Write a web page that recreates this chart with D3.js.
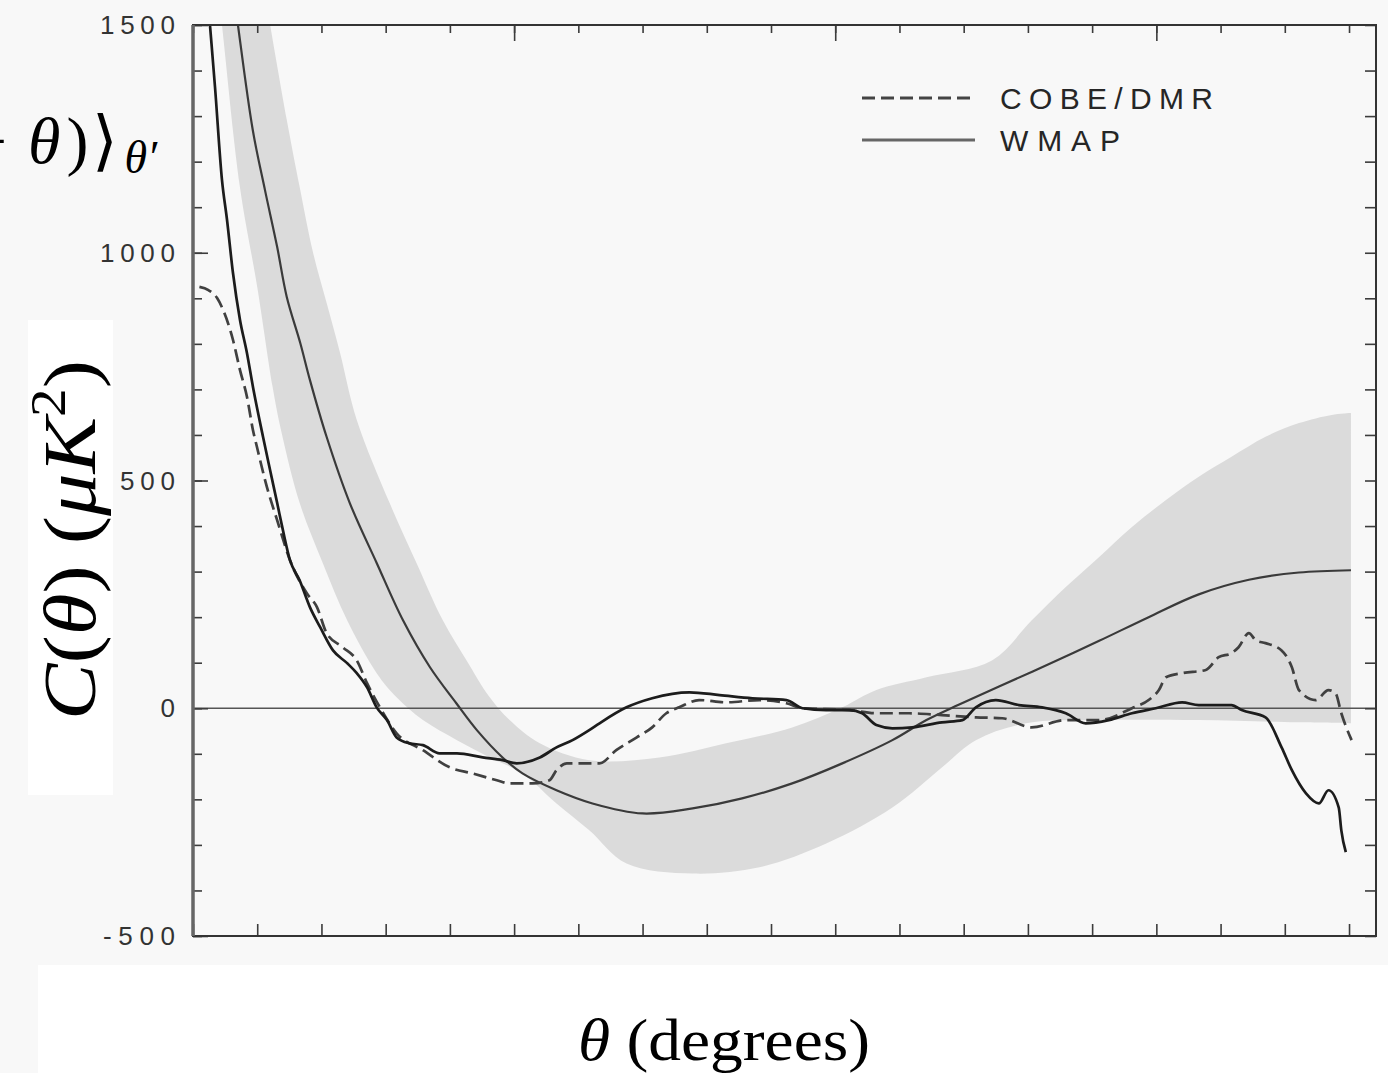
<!DOCTYPE html>
<html>
<head>
<meta charset="utf-8">
<script src="https://cdn.jsdelivr.net/npm/d3@7"></script>
<style>
  html, body { margin: 0; padding: 0; background: #f8f8f8; }
  svg { display: block; }
</style>
</head>
<body>
<svg id="chart" width="1388" height="1073"></svg>
<script>
// Angular two-point correlation C(θ) of the CMB temperature, µK² against θ in degrees.

const xMinorTicks = d3.range(0, 181, 10);
const xMajorTicks = [50, 100, 150];
const yMinorTicks = d3.range(-500, 1501, 100);
const yMajorTicks = [-500, 0, 500, 1000, 1500];
const yTickLabels = ["1500", "1000", "500", "0", "-500"];
const yTickValues = [1500, 1000, 500, 0, -500];
const legendLabels = ["COBE/DMR", "WMAP"];

// WMAP measured correlation function [θ, C(θ)]
const wmapData = [
  [2.06,1600],[2.64,1500],[3.42,1365],[4.51,1160],[5.29,1073],[6.22,956],[7.31,853],[8.40,780],
  [9.33,706],[10.9,596],[12.0,523],[13.1,451],[14.0,391],[15.1,325],[16.6,281],[18.2,222],
  [19.8,178],[21.8,127],[24.0,99],[25.5,77],[27.1,46],[28.6,2],[30.2,-26],[31.7,-64],
  [33.7,-77],[35.8,-81],[38.4,-99],[41.1,-99],[45.1,-108],[48.2,-114],[50.4,-121],[54.0,-108],
  [56.6,-86],[59.1,-70],[61.7,-48],[63.3,-33],[67.5,2],[71.5,22],[77.3,35],[82.0,29],
  [87.1,22],[92.4,18],[94.9,0],[98.6,-4],[102.2,-4],[104.2,-11],[106.4,-37],[108.9,-44],
  [112.0,-42],[116.6,-31],[119.8,-26],[121.9,2],[125.0,18],[128.6,7],[132.2,2],[135.9,-11],
  [139.0,-33],[142.6,-26],[146.2,-11],[149.9,0],[154.0,13],[156.6,7],[161.7,7],[163.3,-4],
  [167.0,-20],[169.5,-86],[171.1,-136],[173.3,-187],[175.3,-209],[176.8,-180],[178.4,-218],
  [178.8,-268],[179.5,-316]
];

// COBE/DMR measured correlation function [θ, C(θ)]
const cobeData = [
  [1.0,925],[2.4,918],[3.73,901],[4.67,875],[6.22,809],[7.31,743],[8.40,684],[9.33,611],
  [9.95,574],[11.5,486],[13.1,413],[15.1,325],[17.7,253],[19.3,222],[20.8,165],[23.3,134],
  [25.5,105],[27.1,55],[29.1,2],[31.7,-55],[35.8,-92],[40.0,-130],[43.5,-143],[47.3,-158],
  [49.3,-165],[52.9,-165],[55.5,-158],[56.6,-136],[58.2,-121],[63.3,-121],[65.9,-92],[69.1,-64],
  [71.5,-42],[73.7,-11],[75.7,2],[78.8,18],[83.0,13],[88.2,18],[92.4,11],[94.9,0],
  [102.2,-4],[106.4,-11],[111.5,-11],[116.6,-15],[121.9,-20],[126.0,-22],[130.6,-42],[135.9,-26],
  [141.1,-26],[146.2,0],[148.8,18],[150.4,40],[151.5,68],[154.0,77],[157.7,84],[159.7,112],
  [161.7,121],[162.8,134],[164.4,165],[165.5,149],[167.0,143],[169.5,127],[171.1,90],[172.2,40],
  [174.8,18],[176.8,40],[177.9,33],[178.8,-11],[180.4,-70]
];

// Best-fit ΛCDM model prediction [θ, C(θ)]
const modelCurve = [
  [6.0,1610],[7.0,1500],[9.3,1270],[11.2,1138],[13.1,1013],[14.6,903],[16.7,802],[18.2,721],
  [20.8,596],[24.4,451],[28.6,319],[32.7,193],[36.9,90],[41.0,11],[44.2,-48],[48.2,-108],
  [51.3,-143],[56.6,-180],[62.2,-209],[70.0,-231],[77.8,-220],[85.5,-198],[93.3,-165],
  [101.1,-121],[108.9,-70],[114.2,-26],[119.3,8],[125.5,48],[133.3,97],[141.1,148],
  [148.8,200],[156.6,250],[164.4,282],[172.2,298],[180.3,303]
];

// Cosmic-variance envelope around the model: upper and lower edges [θ, C(θ)]
const bandUpper = [
  [10.8,1600],[12.0,1501],[14.6,1292],[16.6,1145],[18.7,1000],[20.8,890],[22.9,780],[25.5,633],
  [30.6,451],[34.8,319],[38.9,193],[42.6,105],[46.2,24],[49.3,-26],[54.0,-77],[61.7,-114],
  [72.6,-108],[83.0,-77],[93.3,-42],[101.1,2],[106.4,40],[114.2,68],[124.4,105],[130.6,193],
  [135.9,266],[141.1,332],[146.2,398],[151.5,457],[156.6,508],[161.7,552],[167.0,596],
  [172.2,626],[177.3,644],[180.3,648]
];
const bandLower = [
  [3.7,1600],[4.5,1501],[7.3,1145],[10.0,925],[12.4,705],[13.7,611],[16.6,451],[20.2,319],
  [24.0,193],[28.6,77],[31.7,24],[35.8,-26],[41.1,-70],[46.2,-108],[51.3,-143],[56.6,-209],
  [61.7,-268],[67.5,-341],[77.8,-363],[88.2,-349],[98.6,-297],[108.9,-218],[116.6,-130],
  [121.9,-70],[129.7,-33],[141.0,-26],[156.6,-26],[172.0,-31],[180.3,-33]
];

const W = 1388, H = 1073;
const svg = d3.select("#chart");
svg.append("rect").attr("width", W).attr("height", H).attr("fill", "#f8f8f8");

const xMax = 184.2;
const x = d3.scaleLinear().domain([0, xMax]).range([193, 1376]);
const y = d3.scaleLinear().domain([-500, 1500]).range([936, 25]);

svg.append("defs").append("clipPath").attr("id", "plot-clip")
  .append("rect")
  .attr("x", x(0)).attr("y", y(1500))
  .attr("width", x(xMax) - x(0)).attr("height", y(-500) - y(1500));

const plot = svg.append("g").attr("clip-path", "url(#plot-clip)");

const smoothLine = d3.line().x(d => x(d[0])).y(d => y(d[1])).curve(d3.curveCatmullRom);
const rawLine = d3.line().x(d => x(d[0])).y(d => y(d[1])).curve(d3.curveMonotoneX);

// envelope: smoothed upper edge left to right, then smoothed lower edge right to left
const upperPath = smoothLine(bandUpper);
const lowerPath = smoothLine(bandLower.slice().reverse());
plot.append("path")
  .attr("d", upperPath + "L" + lowerPath.slice(1) + "Z")
  .attr("fill", "#dbdbdb");

// zero reference line
plot.append("line")
  .attr("x1", x(0)).attr("x2", x(xMax))
  .attr("y1", y(0)).attr("y2", y(0))
  .attr("stroke", "#555").attr("stroke-width", 1.3);

plot.append("path").datum(modelCurve)
  .attr("d", smoothLine)
  .attr("fill", "none").attr("stroke", "#3a3a3a").attr("stroke-width", 2.2);

plot.append("path").datum(cobeData)
  .attr("d", rawLine)
  .attr("fill", "none").attr("stroke", "#404040").attr("stroke-width", 2.7)
  .attr("stroke-dasharray", "13,6");

plot.append("path").datum(wmapData)
  .attr("d", rawLine)
  .attr("fill", "none").attr("stroke", "#1c1c1c").attr("stroke-width", 2.7);

// ticks on all four sides, pointing inward
function tickGroup(axis, tx, ty) {
  const g = svg.append("g").attr("transform", `translate(${tx},${ty})`).call(axis);
  g.select(".domain").remove();
  g.selectAll(".tick line").attr("stroke", "#3c3c3c").attr("stroke-width", 1.6);
  g.selectAll(".tick text").remove();
  return g;
}
tickGroup(d3.axisBottom(x).tickValues(xMinorTicks).tickSize(-12).tickSizeOuter(0), 0, y(-500));
tickGroup(d3.axisTop(x).tickValues(xMinorTicks).tickSize(-8).tickSizeOuter(0), 0, y(1500));
tickGroup(d3.axisTop(x).tickValues(xMajorTicks).tickSize(-16).tickSizeOuter(0), 0, y(1500));
tickGroup(d3.axisLeft(y).tickValues(yMinorTicks).tickSize(-9).tickSizeOuter(0), x(0), 0);
tickGroup(d3.axisLeft(y).tickValues(yMajorTicks).tickSize(-15).tickSizeOuter(0), x(0), 0);
tickGroup(d3.axisRight(y).tickValues(yMinorTicks).tickSize(-11).tickSizeOuter(0), x(xMax), 0);

// frame
svg.append("rect")
  .attr("x", x(0)).attr("y", y(1500))
  .attr("width", x(xMax) - x(0)).attr("height", y(-500) - y(1500))
  .attr("fill", "none").attr("stroke", "#333").attr("stroke-width", 2);
svg.append("line")
  .attr("x1", x(0)).attr("x2", x(0)).attr("y1", y(1500)).attr("y2", y(-500))
  .attr("stroke", "#666").attr("stroke-width", 3.5);

// y tick labels
const labelWidths = { "1500": 75, "1000": 75, "500": 55, "0": 17, "-500": 72 };
svg.append("g").selectAll("text")
  .data(yTickValues)
  .join("text")
  .attr("x", 175)
  .attr("y", d => y(d) + 9)
  .attr("text-anchor", "end")
  .attr("font-family", "Liberation Sans, Arial, sans-serif")
  .attr("font-size", 26)
  .attr("fill", "#333")
  .attr("textLength", (d, i) => labelWidths[yTickLabels[i]])
  .attr("lengthAdjust", "spacing")
  .text((d, i) => yTickLabels[i]);

// legend
const legend = svg.append("g");
const legendRows = [
  { label: legendLabels[0], y: 98, dash: "13,6", color: "#444" },
  { label: legendLabels[1], y: 140, dash: null, color: "#666" }
];
const legendWidths = [213, 120];
legendRows.forEach((r, i) => {
  legend.append("line")
    .attr("x1", 862).attr("x2", 975).attr("y1", r.y).attr("y2", r.y)
    .attr("stroke", r.color).attr("stroke-width", 3)
    .attr("stroke-dasharray", r.dash);
  legend.append("text")
    .attr("x", 1000).attr("y", r.y + 11)
    .attr("font-family", "Liberation Sans, Arial, sans-serif")
    .attr("font-size", 30)
    .attr("fill", "#262626")
    .attr("textLength", legendWidths[i])
    .attr("lengthAdjust", "spacing")
    .text(r.label);
});

// axis titles
const serif = "Liberation Serif, Times New Roman, serif";

svg.append("rect").attr("x", 28).attr("y", 320).attr("width", 85).attr("height", 475).attr("fill", "#fff");
const yTitle = svg.append("text")
  .attr("transform", "translate(95,540) rotate(-90)")
  .attr("text-anchor", "middle")
  .attr("font-family", serif)
  .attr("font-size", 74)
  .attr("fill", "#000")
  .attr("textLength", 360)
  .attr("lengthAdjust", "spacingAndGlyphs");
yTitle.append("tspan").attr("font-style", "italic").text("C");
yTitle.append("tspan").text("(");
yTitle.append("tspan").attr("font-style", "italic").text("θ");
yTitle.append("tspan").text(") (");
yTitle.append("tspan").attr("font-style", "italic").text("μK");
yTitle.append("tspan").attr("font-size", 50).attr("dy", -30).text("2");
yTitle.append("tspan").attr("dy", 30).text(")");

svg.append("rect").attr("x", 38).attr("y", 965).attr("width", W - 38).attr("height", H - 965).attr("fill", "#fff");
const xTitle = svg.append("text")
  .attr("x", 578).attr("y", 1060)
  .attr("font-family", serif)
  .attr("font-size", 60)
  .attr("fill", "#000")
  .attr("textLength", 292)
  .attr("lengthAdjust", "spacingAndGlyphs");
xTitle.append("tspan").attr("font-style", "italic").text("θ");
xTitle.append("tspan").text(" (degrees)");

// top-left fragment of the averaged product ⟨C(θ′)C(θ′+θ)⟩θ′, running off the left edge
svg.append("text")
  .attr("x", 7).attr("y", 163)
  .attr("text-anchor", "end")
  .attr("font-family", serif).attr("font-size", 66).attr("fill", "#000")
  .text("+");
const frag = svg.append("text")
  .attr("x", 28).attr("y", 163)
  .attr("font-family", serif).attr("font-size", 66).attr("fill", "#000");
frag.append("tspan").attr("font-style", "italic").text("θ");
frag.append("tspan").attr("dx", 6).text(")");
frag.append("tspan").attr("dx", 4).text("⟩");
frag.append("tspan").attr("font-style", "italic").attr("font-size", 46).attr("dx", 6).attr("dy", 10).text("θ′");
</script>
</body>
</html>
